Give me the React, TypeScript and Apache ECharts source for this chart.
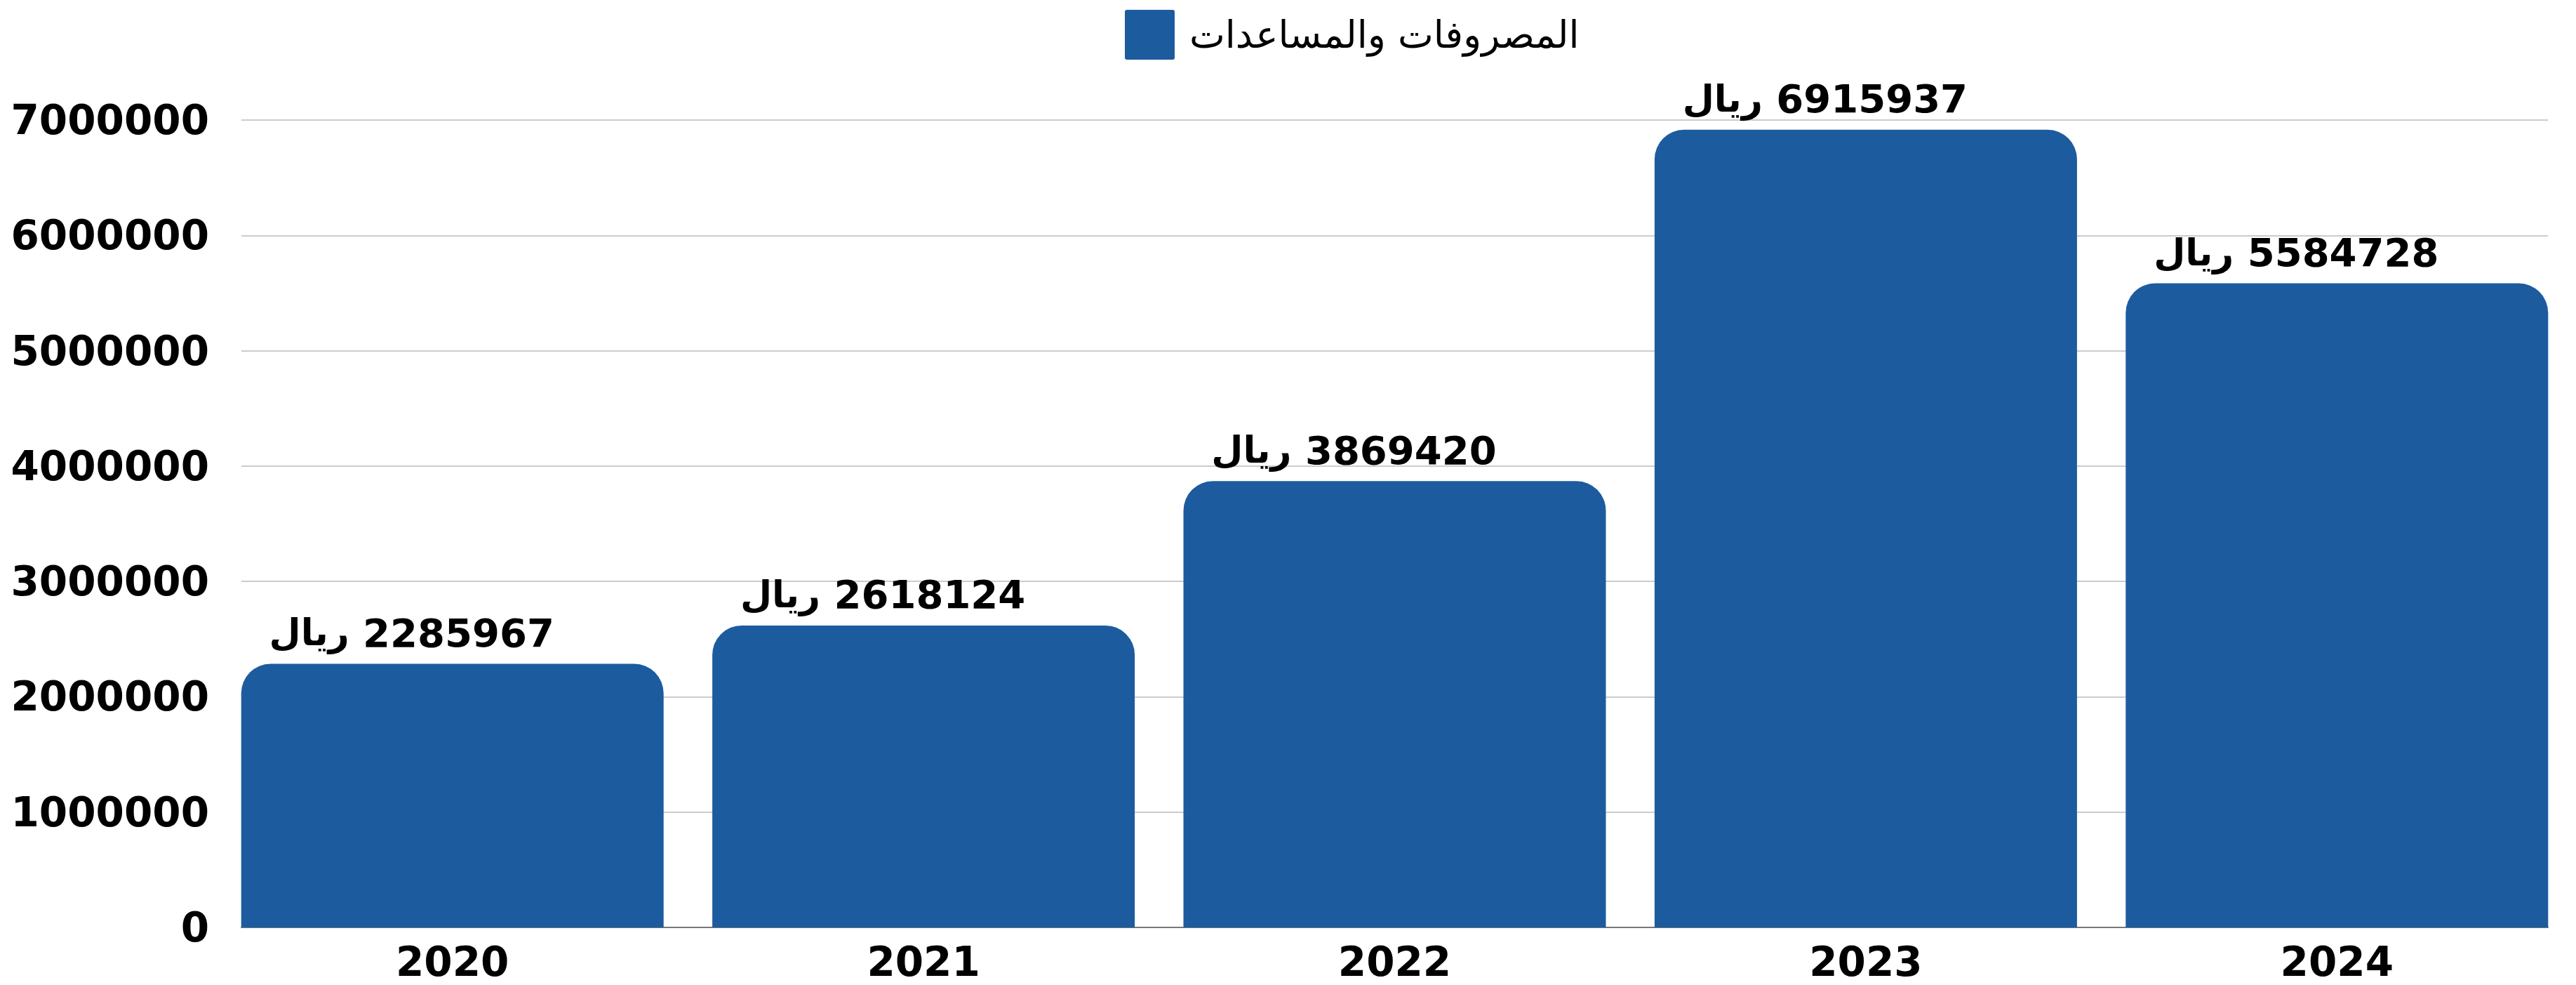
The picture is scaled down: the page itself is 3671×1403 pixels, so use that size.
import React, { useEffect, useRef } from "react";
import * as echarts from "echarts";

const categories = ["2020", "2021", "2022", "2023", "2024"];
const values = [2285967, 2618124, 3869420, 6915937, 5584728];
const seriesName = "المصروفات والمساعدات";
const currency = "ريال";
const yMax = 7000000;
const yInterval = 1000000;

export default function App() {
  const ref = useRef<HTMLDivElement>(null);
  useEffect(() => {
    document.body.style.margin = "0";
    const chart = echarts.init(ref.current!, null, { renderer: "svg" });
    const font = "DejaVu Sans";
    chart.setOption({
      animation: false,
      backgroundColor: "#ffffff",
      legend: {
        left: 1598,
        top: 9,
        itemWidth: 71,
        itemHeight: 71,
        icon: "path://M3,0H68A3,3,0,0,1,71,3V68A3,3,0,0,1,68,71H3A3,3,0,0,1,0,68V3A3,3,0,0,1,3,0Z",
        data: [seriesName],
        textStyle: {
          fontSize: 54,
          fontFamily: font,
          color: "#000",
          padding: [0, 0, 0, 16],
        },
      },
      grid: [
        { left: 309, right: 5, top: 171, height: 1150 },
        { left: 344, right: 40, top: 171, height: 1150 },
      ],
      xAxis: [
        {
          type: "category",
          gridIndex: 0,
          data: categories,
          axisLine: { show: false },
          axisTick: { show: false },
          axisLabel: {
            fontSize: 58,
            lineHeight: 58,
            fontWeight: "bold",
            fontFamily: font,
            color: "#000",
            margin: 20,
          },
        },
        {
          type: "value",
          gridIndex: 1,
          min: 0,
          max: 1,
          axisLine: { show: true, lineStyle: { color: "#777", width: 2 } },
          axisTick: { show: false },
          axisLabel: { show: false },
          splitLine: { show: false },
        },
      ],
      yAxis: [
        {
          type: "value",
          gridIndex: 0,
          min: 0,
          max: yMax,
          interval: yInterval,
          show: false,
          splitLine: { show: false },
        },
        {
          type: "value",
          gridIndex: 1,
          min: 0,
          max: yMax,
          interval: yInterval,
          axisLine: { show: false },
          axisTick: { show: false },
          axisLabel: {
            fontSize: 58,
            fontWeight: "bold",
            fontFamily: font,
            color: "#000",
            margin: 46,
            formatter: (v: number) => String(v),
          },
          splitLine: { show: true, lineStyle: { color: "#cccccc", width: 2 } },
        },
      ],
      series: [
        {
          name: seriesName,
          type: "bar",
          xAxisIndex: 0,
          yAxisIndex: 0,
          data: values,
          barWidth: 602,
          itemStyle: { color: "#1d5b9f", borderRadius: [42, 42, 0, 0] },
          label: {
            show: true,
            position: "top",
            distance: 14,
            offset: [-58, 0],
            formatter: (p: any) => `{u|${currency}} {n|${p.value}}`,
            rich: {
              u: { fontSize: 52, fontWeight: "bold", fontFamily: font, color: "#000", lineHeight: 60 },
              n: { fontSize: 56, fontWeight: "bold", fontFamily: font, color: "#000", lineHeight: 60 },
            },
            fontSize: 56,
            fontWeight: "bold",
            fontFamily: font,
            color: "#000",
          },
        },
      ],
    });
    return () => chart.dispose();
  }, []);
  return (
    <div
      ref={ref}
      style={{ position: "fixed", left: 0, top: 0, width: 3671, height: 1403 }}
    />
  );
}
